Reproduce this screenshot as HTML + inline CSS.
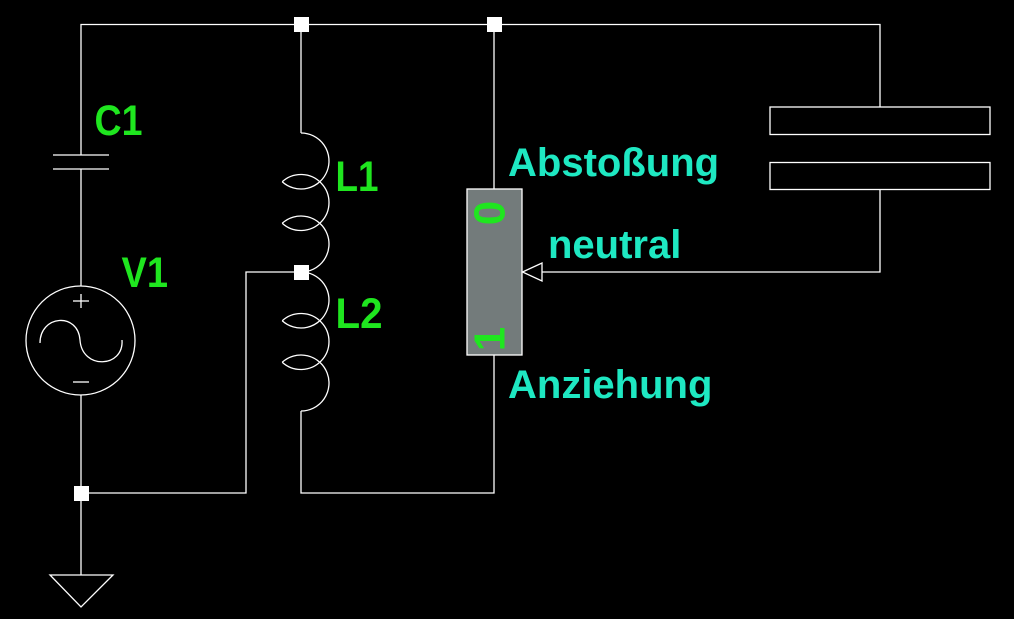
<!DOCTYPE html>
<html>
<head>
<meta charset="utf-8">
<style>
html,body{margin:0;padding:0;background:#000;}
svg{display:block;}
.g{fill:#1fe61f;font-family:"Liberation Sans",Arial,sans-serif;font-weight:bold;}
.c{fill:#1ee8c2;font-family:"Liberation Sans",Arial,sans-serif;font-weight:bold;}
</style>
</head>
<body>
<svg width="1014" height="619" viewBox="0 0 1014 619" xmlns="http://www.w3.org/2000/svg">
<rect x="0" y="0" width="1014" height="619" fill="#000"/>
<g fill="none" stroke="#fff" stroke-width="1.3">
  <polyline points="81,155 81,24.5 880,24.5 880,107"/>
  <line x1="53" y1="155" x2="109" y2="155"/>
  <line x1="53" y1="169" x2="109" y2="169"/>
  <line x1="81" y1="169" x2="81" y2="286"/>
  <circle cx="80.5" cy="340.5" r="54.5"/>
  <line x1="73" y1="301" x2="89" y2="301"/>
  <line x1="81" y1="294" x2="81" y2="308"/>
  <line x1="73" y1="382" x2="89" y2="382"/>
  <path d="M40,343 C40,315 78,312 80,340 C82,370 124,368 122,340"/>
  <line x1="81" y1="395" x2="81" y2="575"/>
  <polygon points="50,575 113,575 81,607"/>
  <polyline points="81,493 246,493 246,272 301,272"/>
  <line x1="301" y1="24" x2="301" y2="133"/>
  <path d="M301,133 A28,28 0 1 1 282.2,181.75"/>
  <path d="M282.2,181.75 A28,28 0 1 1 282.2,223.25"/>
  <path d="M282.2,223.25 A28,28 0 1 1 301,272"/>
  <path d="M301,272 A28,28 0 1 1 282.2,320.75"/>
  <path d="M282.2,320.75 A28,28 0 1 1 282.2,362.25"/>
  <path d="M282.2,362.25 A28,28 0 1 1 301,411"/>
  <polyline points="301,411 301,493 494,493 494,355"/>
  <line x1="494" y1="24" x2="494" y2="189"/>
  <rect x="770" y="107" width="220" height="27.5"/>
  <rect x="770" y="162.5" width="220" height="27"/>
  <polyline points="880,189.5 880,272 542,272"/>
  <polygon points="522.5,272 542,263 542,281"/>
</g>
<rect x="467" y="189" width="55" height="166" fill="#737b7b" stroke="#fff" stroke-width="1.3"/>
<g fill="#fff">
  <rect x="294" y="17" width="15" height="15"/>
  <rect x="487" y="17" width="15" height="15"/>
  <rect x="294" y="265" width="15" height="15"/>
  <rect x="74" y="486" width="15" height="15"/>
</g>
<text class="g" x="94.5" y="135" font-size="43" textLength="48" lengthAdjust="spacingAndGlyphs">C1</text>
<text class="g" x="121.5" y="287" font-size="43" textLength="46.5" lengthAdjust="spacingAndGlyphs">V1</text>
<text class="g" x="335.5" y="191" font-size="43" textLength="43" lengthAdjust="spacingAndGlyphs">L1</text>
<text class="g" x="335.5" y="328" font-size="43" textLength="47" lengthAdjust="spacingAndGlyphs">L2</text>
<text class="g" font-size="44" text-anchor="middle" transform="translate(489,213) rotate(-90)" x="0" y="15.5">0</text>
<text class="g" font-size="44" text-anchor="middle" transform="translate(489,339) rotate(-90)" x="0" y="15.5">1</text>
<text class="c" x="508" y="176" font-size="40">Abstoßung</text>
<text class="c" x="548" y="258" font-size="40">neutral</text>
<text class="c" x="508" y="398" font-size="40">Anziehung</text>
</svg>
</body>
</html>
